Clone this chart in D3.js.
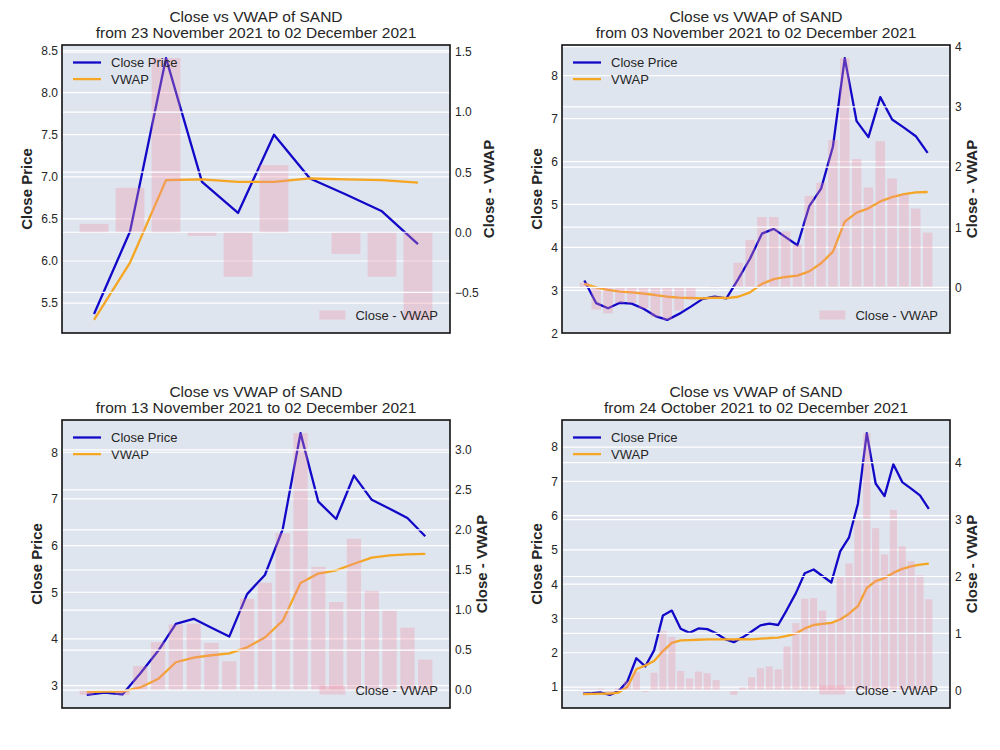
<!DOCTYPE html>
<html>
<head>
<meta charset="utf-8">
<script src="https://cdn.jsdelivr.net/npm/d3@7"></script>
<style>
  body { margin: 0; background: #fff; }
  svg { font-family: "Liberation Sans", Arial, sans-serif; }
</style>
</head>
<body>
<svg width="1000" height="750"></svg>
<script>
// --- Data: SAND daily close, 24 Oct 2021 .. 02 Dec 2021 ---
const closePrices = [
  0.81, 0.82, 0.84, 0.77, 0.88, 1.17, 1.84, 1.60, 2.07, 3.09,
  3.23, 2.70, 2.58, 2.71, 2.69, 2.57, 2.40, 2.31, 2.45, 2.62,
  2.80, 2.85, 2.81, 3.26, 3.74, 4.32, 4.43, 4.24, 4.05, 4.96,
  5.37, 6.35, 8.41, 6.94, 6.57, 7.50, 6.98, 6.79, 6.59, 6.20
];

// VWAP, cumulated from the start of each window
const vwap23Nov = [5.30, 5.98, 6.96, 6.97, 6.94, 6.94, 6.98, 6.97, 6.96, 6.93];
const vwap03Nov = [
  3.15, 3.07, 3.01, 2.97, 2.95, 2.92, 2.89, 2.85, 2.83, 2.82,
  2.81, 2.83, 2.82, 2.85, 2.95, 3.15, 3.26, 3.31, 3.34, 3.44,
  3.63, 3.90, 4.60, 4.81, 4.91, 5.07, 5.17, 5.24, 5.28, 5.29
];
const vwap13Nov = [
  2.86, 2.87, 2.87, 2.96, 3.14, 3.50, 3.60, 3.65, 3.69, 3.82,
  4.03, 4.39, 5.20, 5.40, 5.47, 5.61, 5.74, 5.79, 5.81, 5.82
];
const vwap24Oct = [
  0.79, 0.80, 0.81, 0.81, 0.84, 1.01, 1.52, 1.63, 1.76, 2.05,
  2.29, 2.36, 2.37, 2.38, 2.39, 2.39, 2.39, 2.39, 2.40, 2.39,
  2.41, 2.43, 2.44, 2.49, 2.56, 2.71, 2.81, 2.84, 2.87, 2.97,
  3.14, 3.36, 3.89, 4.09, 4.18, 4.33, 4.45, 4.52, 4.57, 4.60
];

const windowVwaps = [vwap23Nov, vwap03Nov, vwap13Nov, vwap24Oct];
const windowStart = [30, 10, 20, 0];            // index into closePrices
const startLabels = ["23 November 2021", "03 November 2021", "13 November 2021", "24 October 2021"];
const endLabel = "02 December 2021";

const leftTicks = [
  [5.5, 6.0, 6.5, 7.0, 7.5, 8.0, 8.5],
  [2, 3, 4, 5, 6, 7, 8],
  [3, 4, 5, 6, 7, 8],
  [1, 2, 3, 4, 5, 6, 7, 8]
];
const rightTicks = [
  [-0.5, 0.0, 0.5, 1.0, 1.5],
  [0, 1, 2, 3, 4],
  [0.0, 0.5, 1.0, 1.5, 2.0, 2.5, 3.0],
  [0, 1, 2, 3, 4]
];
const leftFormats = [".1f", "d", "d", "d"];
const rightFormats = [".1f", "d", ".1f", "d"];

// --- Layout ---
const PANEL_W = 500, PANEL_H = 375;
const AX = { left: 62, right: 450, top: 45, bottom: 333 };
const BG = "#dfe5ef";
const CLOSE_COLOR = "#1208c8";
const VWAP_COLOR = "#f5a623";
const BAR_COLOR = "#ee8fa5";
const BAR_OPACITY = 0.32;
const TEXT = "#262626";

// matplotlib-ish 5% margins
function pad(ext) {
  const m = (ext[1] - ext[0]) * 0.05;
  return [ext[0] - m, ext[1] + m];
}

function drawPanel(g, k) {
  const vwap = windowVwaps[k];
  const n = vwap.length;
  const close = closePrices.slice(windowStart[k], windowStart[k] + n);
  const diff = close.map((c, i) => c - vwap[i]);
  const idx = d3.range(n);

  const x = d3.scaleLinear().domain(pad([-0.4, n - 1 + 0.4])).range([AX.left, AX.right]);
  const yL = d3.scaleLinear().domain(pad(d3.extent(close.concat(vwap)))).range([AX.bottom, AX.top]);
  const yR = d3.scaleLinear().domain(pad(d3.extent(diff.concat([0])))).range([AX.bottom, AX.top]);

  const clipId = "clip" + k;
  g.append("clipPath").attr("id", clipId)
    .append("rect")
    .attr("x", AX.left).attr("y", AX.top)
    .attr("width", AX.right - AX.left).attr("height", AX.bottom - AX.top);

  g.append("rect")
    .attr("x", AX.left).attr("y", AX.top)
    .attr("width", AX.right - AX.left).attr("height", AX.bottom - AX.top)
    .attr("fill", BG);

  // left grid
  g.append("g").selectAll("line")
    .data(leftTicks[k])
    .join("line")
    .attr("x1", AX.left).attr("x2", AX.right)
    .attr("y1", d => yL(d)).attr("y2", d => yL(d))
    .attr("stroke", "#fff").attr("stroke-width", 1.2);

  const plot = g.append("g").attr("clip-path", `url(#${clipId})`);

  const line = d3.line().x((d, i) => x(i)).y(d => yL(d));
  plot.append("path").datum(close)
    .attr("d", line).attr("fill", "none")
    .attr("stroke", CLOSE_COLOR).attr("stroke-width", 2.3).attr("stroke-linejoin", "round");
  plot.append("path").datum(vwap)
    .attr("d", line).attr("fill", "none")
    .attr("stroke", VWAP_COLOR).attr("stroke-width", 2.3).attr("stroke-linejoin", "round");

  // legend for the price lines (upper left)
  const lg = g.append("g").attr("font-size", 13).attr("fill", TEXT);
  [["Close Price", CLOSE_COLOR], ["VWAP", VWAP_COLOR]].forEach(([name, col], i) => {
    const yy = AX.top + 17.5 + i * 16.6;
    lg.append("line")
      .attr("x1", AX.left + 11).attr("x2", AX.left + 39)
      .attr("y1", yy).attr("y2", yy)
      .attr("stroke", col).attr("stroke-width", 2.3);
    lg.append("text")
      .attr("x", AX.left + 49).attr("y", yy).attr("dy", "0.35em")
      .text(name);
  });

  // right grid (twin axis) then bars on top
  g.append("g").selectAll("line")
    .data(rightTicks[k])
    .join("line")
    .attr("x1", AX.left).attr("x2", AX.right)
    .attr("y1", d => yR(d)).attr("y2", d => yR(d))
    .attr("stroke", "#fff").attr("stroke-width", 1.2);

  plot.append("g").selectAll("rect")
    .data(idx)
    .join("rect")
    .attr("x", i => x(i - 0.4))
    .attr("width", x(0.8) - x(0))
    .attr("y", i => yR(Math.max(0, diff[i])))
    .attr("height", i => Math.abs(yR(diff[i]) - yR(0)))
    .attr("fill", BAR_COLOR).attr("fill-opacity", BAR_OPACITY);

  // legend for bars (lower right)
  const lb = g.append("g").attr("font-size", 13).attr("fill", TEXT);
  const ly = AX.bottom - 18;
  const lt = lb.append("text")
    .attr("x", AX.right - 12).attr("y", ly).attr("dy", "0.35em")
    .attr("text-anchor", "end")
    .text("Close - VWAP");
  const tw = lt.node().getComputedTextLength();
  lb.append("rect")
    .attr("x", AX.right - 12 - tw - 10 - 26).attr("y", ly - 4.5)
    .attr("width", 26).attr("height", 9)
    .attr("fill", BAR_COLOR).attr("fill-opacity", BAR_OPACITY);

  // axes
  const axL = g.append("g")
    .attr("transform", `translate(${AX.left},0)`)
    .call(d3.axisLeft(yL).tickValues(leftTicks[k]).tickFormat(d3.format(leftFormats[k])).tickSize(0).tickPadding(4));
  const axR = g.append("g")
    .attr("transform", `translate(${AX.right},0)`)
    .call(d3.axisRight(yR).tickValues(rightTicks[k]).tickFormat(d3.format(rightFormats[k])).tickSize(0).tickPadding(5));
  [axL, axR].forEach(a => {
    a.select(".domain").remove();
    a.selectAll("text").attr("font-size", 12).attr("fill", TEXT)
      .attr("font-family", "Liberation Sans, Arial, sans-serif");
  });

  const wL = d3.max(axL.selectAll("text").nodes(), t => t.getComputedTextLength());
  const wR = d3.max(axR.selectAll("text").nodes(), t => t.getComputedTextLength());
  const cy = (AX.top + AX.bottom) / 2;

  g.append("text")
    .attr("transform", `translate(${AX.left - 4 - wL - 8 - 7},${cy}) rotate(-90)`)
    .attr("text-anchor", "middle").attr("dy", "0.35em")
    .attr("font-size", 15).attr("font-weight", "bold").attr("fill", TEXT)
    .text("Close Price");
  g.append("text")
    .attr("transform", `translate(${AX.right + 5 + wR + 2 + 8},${cy}) rotate(-90)`)
    .attr("text-anchor", "middle").attr("dy", "0.35em")
    .attr("font-size", 15).attr("font-weight", "bold").attr("fill", TEXT)
    .text("Close - VWAP");

  // spines
  g.append("rect")
    .attr("x", AX.left).attr("y", AX.top)
    .attr("width", AX.right - AX.left).attr("height", AX.bottom - AX.top)
    .attr("fill", "none").attr("stroke", "#111").attr("stroke-width", 1.6);

  // title
  const cx = (AX.left + AX.right) / 2;
  const title = g.append("text")
    .attr("text-anchor", "middle").attr("font-size", 15.5).attr("fill", TEXT);
  title.append("tspan").attr("x", cx).attr("y", 21.5).text("Close vs VWAP of SAND");
  title.append("tspan").attr("x", cx).attr("y", 38)
    .text(`from ${startLabels[k]} to ${endLabel}`);
}

const svg = d3.select("svg");
svg.append("rect").attr("width", 1000).attr("height", 750).attr("fill", "#fff");
windowVwaps.forEach((v, k) => {
  const g = svg.append("g")
    .attr("transform", `translate(${(k % 2) * PANEL_W},${Math.floor(k / 2) * PANEL_H})`);
  drawPanel(g, k);
});
</script>
</body>
</html>
